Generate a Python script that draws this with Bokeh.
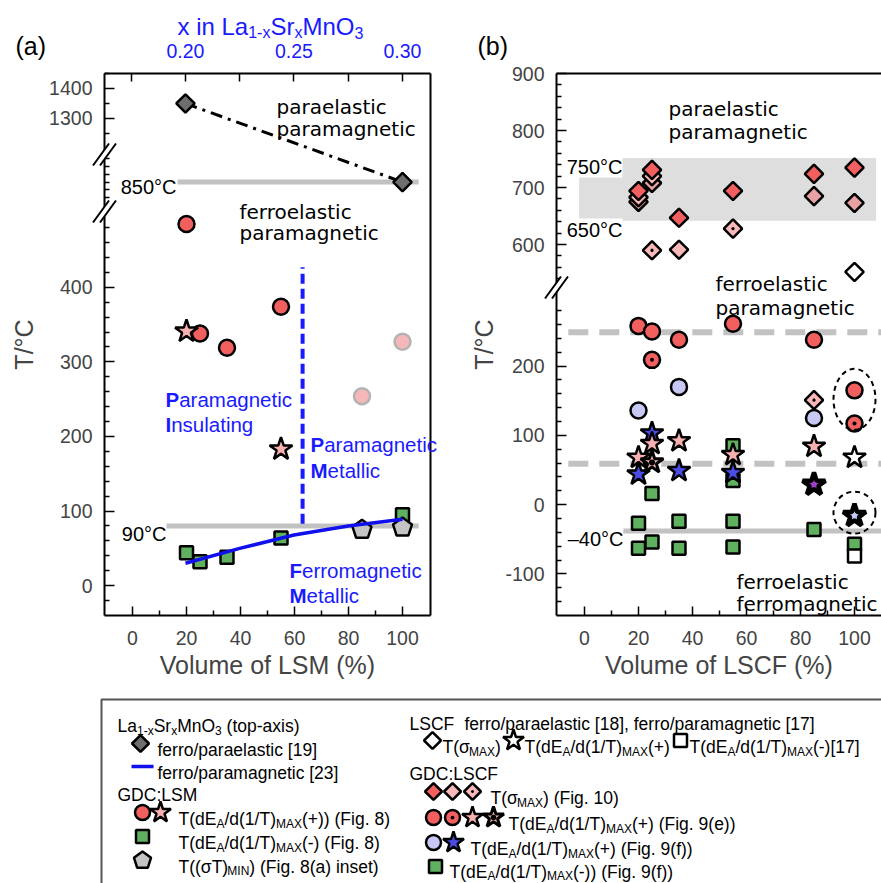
import numpy as np
from bokeh.plotting import figure
from bokeh.layouts import row
from bokeh.models import (Range1d, LinearAxis, FixedTicker, CustomJSTickFormatter,
                          PrintfTickFormatter, Label, ColumnDataSource, GridBox)
from bokeh.core.properties import value, field
from bokeh.embed import file_html
from bokeh.resources import INLINE

# ------------------------------------------------------------------ data
# (a) La1-xSrxMnO3 literature values (top axis: x)
lsm_x = [0.20, 0.30]
lsm_elastic_T = [1350, 850]
lsm_mag_x = [0.20, 0.225, 0.25, 0.275, 0.30]
lsm_mag_T = [30, 50, 68, 80, 89]
# (a) GDC:LSM (bottom axis: volume % LSM)
a_circle_vol = [20, 25, 35, 55]
a_circle_T = [485, 338, 319, 374]
a_star_vol = [20, 55]
a_star_T = [341, 183]
a_faint_vol = [85, 100]
a_faint_T = [254, 327]
a_square_vol = [20, 25, 35, 55, 100]
a_square_T = [44, 32, 38, 64, 95]
a_pent_vol = [85, 100]
a_pent_T = [75, 78]
a_ref_T = [850, 80]
a_ref_vol = [[16.7, 106], [12.6, 106]]
a_ref_label = ["850°C", "90°C"]
a_bound_vol = [63, 63]
a_bound_T = [83, 427]

# (b) GDC:LSCF (volume % LSCF)
b_dia_red_vol = [20, 25, 35, 55, 85, 100]
b_dia_red_T = [694, 731, 647, 694, 724, 735]
b_dia_mid_vol = [20, 25, 85, 100]
b_dia_mid_T = [675, 708, 685, 673]
b_dia_pale_vol = [35]
b_dia_pale_T = [591]
b_dia_dot_vol = [20, 25, 25, 55, 85]
b_dia_dot_T = [683, 720, 590, 628, 151]
b_circ_red_vol = [20, 25, 35, 55, 85, 100]
b_circ_red_T = [258, 250, 238, 261, 238, 165]
b_circ_dot_vol = [25, 100]
b_circ_dot_T = [209, 117]
b_circ_lav_vol = [20, 35, 85]
b_circ_lav_T = [136, 170, 125]
b_star_pink_vol = [20, 25, 35, 55, 85]
b_star_pink_T = [68, 88, 92, 72, 84]
b_star_dot_vol = [25]
b_star_dot_T = [61]
b_star_blue_vol = [20, 25, 35, 55]
b_star_blue_T = [44, 103, 49, 46]
b_star_violet_vol = [85]
b_star_violet_T = [29]
b_star_lav_vol = [100]
b_star_lav_T = [-16]
b_sq_vol = [25, 20, 20, 25, 35, 35, 55, 55, 55, 55, 85, 100]
b_sq_T = [16, -27, -63, -54, -24, -63, -24, -61, 85, 35, -36, -57]
# LSCF literature values
lscf_dia_vol = [100]
lscf_dia_T = [552]
lscf_star_vol = [100]
lscf_star_T = [68]
lscf_sq_vol = [100]
lscf_sq_T = [-74]
b_band_T = [642, 752]
b_band_vol = [-2, 108]
b_dash_T = [249, 59]
b_solid_T = [-38]
b_ring_vol = [100, 100]
b_ring_T = [152, -11.5]

# tick labels
a_major = [0, 100, 200, 300, 400, 1300, 1400]
a_minor = [t for t in range(-20, 500, 20) if t % 100] + [775, 800, 825, 850, 875, 900, 925] + [1200, 1250, 1350, 1450]
b_major = [-100, 0, 100, 200, 600, 700, 800, 900]
b_minor = [t for t in range(-140, 320, 20) if t % 100] + [t for t in range(540, 900, 20) if t % 100]
vol_major = [0, 20, 40, 60, 80, 100]
vol_minor = [10, 30, 50, 70, 90]
x_major = [0.20, 0.25, 0.30]
x_minor = [0.175, 0.225, 0.275]

# ------------------------------------------------------------------ style
FONT = "Liberation Sans"
TXT = "DejaVu Sans"
BLUE = "#1a1aff"
RED = "#f25f5f"
PINK = "#f6b0b0"
PALE = "#f8b8b8"
MID = "#e6a2a2"
LAV = "#c8c8f4"
SBLUE = "#4b4be6"
GREEN = "#5fb05f"
GREYREF = "#c2c2c2"
FH = 542
X_A = (-10.37, 110.37)
X_B = (-10.37, 110.0)
TOP_A = (0.1627, 0.3129)
PPX_A = 326 / (X_A[1] - X_A[0])

# broken axes: temperature -> frame height (px from bottom)
A_T = [-40, 503, 760, 950, 1193, 1450]
A_D = [0, 405, 405, 465, 465, FH]
B_T = [-160, 312, 523, 900]
B_D = [0, 327, 327, FH]


def dA(T):
    return np.interp(np.asarray(T, float), A_T, A_D)


def dB(T):
    return np.interp(np.asarray(T, float), B_T, B_D)


AW = {' ': 278, '(': 333, ')': 333, '+': 584, ',': 278, '-': 333, '.': 278, '/': 278, ':': 278,
      '[': 278, ']': 278, 'A': 667, 'C': 722, 'D': 722, 'E': 667, 'F': 611, 'G': 778, 'I': 278,
      'L': 556, 'M': 833, 'N': 722, 'O': 778, 'S': 667, 'T': 611, 'X': 667, 'P': 667,
      'a': 556, 'c': 500, 'd': 556, 'e': 556, 'f': 278, 'g': 556, 'i': 222, 'l': 222, 'm': 833,
      'n': 556, 'o': 556, 'p': 556, 'r': 333, 's': 500, 't': 278, 'x': 500, 'σ': 571, '°': 400}


def tw(s, size):
    return sum(AW.get(c, 556) for c in s) / 1000.0 * size


def yfmt(pos, labels):
    return CustomJSTickFormatter(args=dict(pos=[float(v) for v in pos], lab=labels), code="""
for (let i = 0; i < pos.length; i++) { if (Math.abs(pos[i] - tick) < 0.01) return lab[i]; }
return "";
""")


def style_axis(ax, label, standoff, lab_standoff, tick_in=10, minor_in=5):
    ax.axis_label = label
    ax.axis_label_text_font = FONT
    ax.axis_label_text_font_size = "25px"
    ax.axis_label_text_font_style = "normal"
    ax.axis_label_standoff = lab_standoff
    ax.major_label_text_font = FONT
    ax.major_label_text_font_size = "19.5px"
    ax.major_label_standoff = standoff
    ax.major_tick_in = tick_in
    ax.major_tick_out = 0
    ax.minor_tick_in = minor_in
    ax.minor_tick_out = 0
    ax.axis_line_width = 2
    ax.major_tick_line_width = 1.5
    ax.minor_tick_line_width = 1.5


def spine(p, side):
    ax = LinearAxis(ticker=FixedTicker(ticks=[], minor_ticks=[]), axis_line_width=2,
                    major_label_standoff=0, major_tick_out=0, major_tick_in=0,
                    minor_tick_out=0, minor_tick_in=0, major_label_text_font_size="1px")
    p.add_layout(ax, side)


def lab(p, x, y, text, size="20px", font=TXT, color="black", align="left", bg=None):
    p.add_layout(Label(x=x, y=y, x_units="screen", y_units="screen", text=text, text_font=font,
                       text_font_size=size, text_color=color, text_align=align,
                       text_baseline="alphabetic", background_fill_color=bg))


def base_fig(width, left, right, xr):
    p = figure(width=width, height=700, x_range=Range1d(*xr), y_range=Range1d(0, FH),
               output_backend="svg", toolbar_location=None,
               min_border_left=left, min_border_right=right, min_border_top=73, min_border_bottom=85)
    p.xgrid.visible = False
    p.ygrid.visible = False
    p.outline_line_color = None
    p.background_fill_color = "white"
    p.border_fill_color = "white"
    return p


# ------------------------------------------------------------------ panel (a)
pa = base_fig(440, 104, 10, X_A)
pa.extra_x_ranges = {"lsm": Range1d(*TOP_A)}
bx = pa.below[0]
bx.ticker = FixedTicker(ticks=vol_major, minor_ticks=vol_minor)
style_axis(bx, "Volume of LSM (%)", 15, 3, tick_in=9, minor_in=5)
ly = pa.left[0]
ly.ticker = FixedTicker(ticks=list(dA(a_major)), minor_ticks=list(dA(a_minor)))
ly.formatter = yfmt(dA(a_major), [str(v) for v in a_major])
style_axis(ly, "T/°C", 12, 8)
top = LinearAxis(x_range_name="lsm", ticker=FixedTicker(ticks=x_major, minor_ticks=x_minor),
                 formatter=PrintfTickFormatter(format="%.2f"))
style_axis(top, None, 16, 0, tick_in=8, minor_in=8)
top.major_label_text_color = BLUE
pa.add_layout(top, "above")
spine(pa, "right")

for T, vols in zip(a_ref_T, a_ref_vol):
    pa.line(vols, [dA(T)] * 2, line_color=GREYREF, line_width=5)
pa.line(a_bound_vol, dA(a_bound_T), line_color=BLUE, line_width=4, line_dash="10 5")
pa.line(lsm_x, dA(lsm_elastic_T), x_range_name="lsm", line_color="black", line_width=3,
        line_dash="12 6 3 6")
pa.scatter(a_faint_vol, dA(a_faint_T), marker="circle", size=16, fill_color="#f5b7b7",
           line_color="#b3b3b3", line_width=2.5)
pa.scatter(a_square_vol, dA(a_square_T), marker="square", size=13, fill_color=GREEN,
           line_color="black", line_width=2.5)
ang = np.pi / 2 + np.arange(5) * 2 * np.pi / 5
pxs = [list(v + 10 * np.cos(ang) / PPX_A) for v in a_pent_vol]
pys = [list(d + 10 * np.sin(ang)) for d in dA(a_pent_T)]
pa.patches(pxs, pys, fill_color="#c4c4c4", line_color="black", line_width=2.5)
pa.line(lsm_mag_x, dA(lsm_mag_T), x_range_name="lsm", line_color="#1010ee", line_width=3.5)
pa.scatter(a_circle_vol, dA(a_circle_T), marker="circle", size=16, fill_color=RED,
           line_color="black", line_width=2.5)
pa.scatter(a_star_vol, dA(a_star_T), marker="star", size=24, fill_color=PINK,
           line_color="black", line_width=2.5)
pa.scatter(lsm_x, dA(lsm_elastic_T), x_range_name="lsm", marker="square", angle=np.pi / 4,
           size=13, fill_color="#6e6e6e", line_color="black", line_width=2.5)

lab(pa, 172, 509, "paraelastic")
lab(pa, 172, 487, "paramagnetic")
lab(pa, 135, 404, "ferroelastic")
lab(pa, 135, 383, "paramagnetic")
lab(pa, 72, 429, a_ref_label[0], font=FONT, align="right")
lab(pa, 62, 82, a_ref_label[1], font=FONT, align="right")

# ------------------------------------------------------------------ panel (b)
pb = base_fig(441, 116, 0, X_B)
bx = pb.below[0]
bx.ticker = FixedTicker(ticks=vol_major, minor_ticks=vol_minor)
style_axis(bx, "Volume of LSCF (%)", 15, 3, tick_in=9, minor_in=5)
ly = pb.left[0]
ly.ticker = FixedTicker(ticks=list(dB(b_major)), minor_ticks=list(dB(b_minor)))
ly.formatter = yfmt(dB(b_major), [str(v) for v in b_major])
style_axis(ly, "T/°C", 12, 4)
spine(pb, "above")

pb.quad(left=[b_band_vol[0]], right=[b_band_vol[1]], bottom=[dB(b_band_T[0])], top=[dB(b_band_T[1])],
        fill_color="#dedede", line_color=None)
for T in b_dash_T:
    pb.line([-6, 110], [dB(T)] * 2, line_color=GREYREF, line_width=6, line_dash="20 11")
for T in b_solid_T:
    pb.line([14.4, 110], [dB(T)] * 2, line_color=GREYREF, line_width=5)

pb.scatter(b_sq_vol, dB(b_sq_T), marker="square", size=13, fill_color=GREEN, line_color="black", line_width=2.5)
pb.scatter(lscf_sq_vol, dB(lscf_sq_T), marker="square", size=13, fill_color="white", line_color="black", line_width=2.5)
pb.scatter(b_circ_red_vol, dB(b_circ_red_T), marker="circle", size=16, fill_color=RED, line_color="black", line_width=2.5)
pb.scatter(b_circ_dot_vol, dB(b_circ_dot_T), marker="circle_dot", size=16, fill_color=RED, line_color="black", line_width=2.5)
pb.scatter(b_circ_lav_vol, dB(b_circ_lav_T), marker="circle", size=16, fill_color=LAV, line_color="black", line_width=2.5)
pb.scatter(b_dia_mid_vol, dB(b_dia_mid_T), marker="square", angle=np.pi / 4, size=13, fill_color=MID, line_color="black", line_width=2.5)
pb.scatter(b_dia_pale_vol, dB(b_dia_pale_T), marker="square", angle=np.pi / 4, size=13, fill_color=PALE, line_color="black", line_width=2.5)
pb.scatter(b_dia_dot_vol, dB(b_dia_dot_T), marker="square_dot", angle=np.pi / 4, size=13, fill_color=PALE, line_color="black", line_width=2.5)
pb.scatter(b_dia_red_vol, dB(b_dia_red_T), marker="square", angle=np.pi / 4, size=13, fill_color=RED, line_color="black", line_width=2.5)
pb.scatter(lscf_dia_vol, dB(lscf_dia_T), marker="square", angle=np.pi / 4, size=13, fill_color="white", line_color="black", line_width=2.5)
pb.scatter(b_star_blue_vol, dB(b_star_blue_T), marker="star", size=24, fill_color=SBLUE, line_color="black", line_width=2.5)
pb.scatter(b_star_pink_vol, dB(b_star_pink_T), marker="star", size=24, fill_color=PINK, line_color="black", line_width=2.5)
pb.scatter(b_star_dot_vol, dB(b_star_dot_T), marker="star_dot", size=24, fill_color=PINK, line_color="black", line_width=3)
pb.scatter(b_star_violet_vol, dB(b_star_violet_T), marker="star", size=24, fill_color="#a040c8", line_color="black", line_width=4.5)
pb.scatter(b_star_lav_vol, dB(b_star_lav_T), marker="star", size=24, fill_color=LAV, line_color="black", line_width=4.5)
pb.scatter(lscf_star_vol, dB(lscf_star_T), marker="star", size=24, fill_color="white", line_color="black", line_width=2.5)
pb.ellipse(b_ring_vol, dB(b_ring_T), width=[42, 42], height=[61, 42], width_units="screen",
           height_units="screen", fill_color=None, line_color="black", line_width=2, line_dash="5 4")

lab(pb, 112, 507, "paraelastic")
lab(pb, 112, 484, "paramagnetic")
lab(pb, 159, 332, "ferroelastic")
lab(pb, 159, 308, "paramagnetic")
lab(pb, 180, 34, "ferroelastic")
lab(pb, 180, 12, "ferromagnetic")
lab(pb, 66, 449, "750°C", font=FONT, align="right", bg="white")
lab(pb, 66, 386, "650°C", font=FONT, align="right", bg="white")
lab(pb, 67, 77, "–40°C", font=FONT, align="right")

# ------------------------------------------------------------------ overlay (page pixels):
# panel tags, top-axis title, axis breaks, region names and legend
ov = figure(width=881, height=883, x_range=Range1d(0, 881), y_range=Range1d(883, 0),
            output_backend="svg", toolbar_location=None, x_axis_location=None,
            y_axis_location=None, min_border=0)
ov.grid.visible = False
ov.outline_line_color = None
ov.background_fill_color = None
ov.border_fill_color = None

# axis-break marks (page px)
brk_x, brk_y = [104, 104, 556], [154, 211, 287]
wx, wy, sx0, sy0, sx1, sy1 = [], [], [], [], [], []
for cx, cy in zip(brk_x, brk_y):
    dx, dy, g = 8, 11, 3.5
    wx.append([cx - dx - g, cx + dx - g, cx + dx + g, cx - dx + g])
    wy.append([cy + dy, cy - dy, cy - dy, cy + dy])
    for s in (-g, g):
        sx0.append(cx - dx + s); sy0.append(cy + dy); sx1.append(cx + dx + s); sy1.append(cy - dy)
ov.patches(wx, wy, fill_color="white", line_color=None)
ov.segment(sx0, sy0, sx1, sy1, line_color="black", line_width=2)

# legend box
ov.quad(left=[101], right=[900], top=[699], bottom=[900], fill_color="white",
        line_color="#555555", line_width=2)

LS, SS = 17.5, 12
tx, ty, tt, tsz, tcol, tsty = [], [], [], [], [], []


def rich(parts, x, y, size=LS, sub=SS, drop=5, color="black", style="normal"):
    for t, is_sub in parts:
        s = sub if is_sub else size
        stripped = t.lstrip(" ")
        xx = x + tw(t[:len(t) - len(stripped)], s)
        tx.append(xx); ty.append(y + (drop if is_sub else 0)); tt.append(stripped)
        tsz.append(f"{s}px"); tcol.append(color); tsty.append(style)
        x += tw(t, s)


def blue_word(x, y, word, size=20.5):
    rich([(word[0], 0)], x, y, size=size, color=BLUE, style="bold")
    rich([(word[1:], 0)], x + tw(word[0], size), y, size=size, color=BLUE)


rich([("(a)", 0)], 15, 45, size=25)
rich([("(b)", 0)], 477, 45, size=25)
rich([("x in La", 0), ("1-x", 1), ("Sr", 0), ("x", 1), ("MnO", 0), ("3", 1)], 177, 26,
     size=24, sub=16, drop=6, color=BLUE)
blue_word(165, 399, "Paramagnetic")
blue_word(165, 424, "Insulating")
blue_word(310, 444, "Paramagnetic")
blue_word(310, 470, "Metallic")
blue_word(289, 570, "Ferromagnetic")
blue_word(289, 595, "Metallic")

dEA = [("T(dE", 0), ("A", 1), ("/d(1/T)", 0), ("MAX", 1)]
rich([("La", 0), ("1-x", 1), ("Sr", 0), ("x", 1), ("MnO", 0), ("3", 1), (" (top-axis)", 0)], 117, 725)
rich([("ferro/paraelastic [19]", 0)], 157, 749)
rich([("ferro/paramagnetic [23]", 0)], 157, 772)
rich([("GDC:LSM", 0)], 117, 794)
rich(dEA + [("(+)) (Fig. 8)", 0)], 178, 818)
rich(dEA + [("(-) (Fig. 8)", 0)], 178, 842)
rich([("T((σT)", 0), ("MIN", 1), (") (Fig. 8(a) inset)", 0)], 178, 866, drop=4)
rich([("LSCF", 0)], 409, 723)
rich([("ferro/paraelastic [18], ferro/paramagnetic [17]", 0)], 464, 723)
rich([("T(σ", 0), ("MAX", 1), (")", 0)], 442, 746)
rich(dEA + [("(+)", 0)], 524, 746)
rich(dEA + [("(-)[17]", 0)], 689, 746)
rich([("GDC:LSCF", 0)], 409, 773)
rich([("T(σ", 0), ("MAX", 1), (") (Fig. 10)", 0)], 490, 797)
rich(dEA + [("(+) (Fig. 9(e))", 0)], 508, 823)
rich(dEA + [("(+) (Fig. 9(f))", 0)], 470, 848)
rich(dEA + [("(-)) (Fig. 9(f))", 0)], 449, 871, drop=4)
ov.text(x="x", y="y", text="text",
        source=ColumnDataSource(dict(x=tx, y=ty, text=tt, size=tsz, color=tcol, style=tsty)),
        text_font=value(FONT), text_font_size=field("size"), text_color=field("color"),
        text_font_style=field("style"), text_baseline="alphabetic", text_align="left")

# legend symbols
ov.scatter([140], [743], marker="square", angle=np.pi / 4, size=12, fill_color="#6e6e6e", line_color="black", line_width=2.5)
ov.line([131, 153], [766, 766], line_color="#1010ee", line_width=3.5)
ov.scatter([142], [812], marker="circle", size=15, fill_color=RED, line_color="black", line_width=2.5)
ov.scatter([160], [812], marker="star", size=22, fill_color=PINK, line_color="black", line_width=2.5)
ov.scatter([142], [836], marker="square", size=13, fill_color=GREEN, line_color="black", line_width=2.5)
lang = np.pi / 2 + np.arange(5) * 2 * np.pi / 5
ov.patches([list(142 + 9 * np.cos(lang))], [list(860 - 9 * np.sin(lang))], fill_color="#c4c4c4", line_color="black", line_width=2.5)
ov.scatter([432], [740], marker="square", angle=np.pi / 4, size=12, fill_color="white", line_color="black", line_width=2.5)
ov.scatter([513], [740], marker="star", size=22, fill_color="white", line_color="black", line_width=2.5)
ov.scatter([680], [740], marker="square", size=13, fill_color="white", line_color="black", line_width=2.5)
ov.scatter([433], [791], marker="square", angle=np.pi / 4, size=12, fill_color=RED, line_color="black", line_width=2.5)
ov.scatter([452], [791], marker="square", angle=np.pi / 4, size=12, fill_color=PALE, line_color="black", line_width=2.5)
ov.scatter([472], [791], marker="square_dot", angle=np.pi / 4, size=12, fill_color=PALE, line_color="black", line_width=2.5)
ov.scatter([433], [817], marker="circle", size=15, fill_color=RED, line_color="black", line_width=2.5)
ov.scatter([452], [817], marker="circle_dot", size=15, fill_color=RED, line_color="black", line_width=2.5)
ov.scatter([472], [817], marker="star", size=22, fill_color=PINK, line_color="black", line_width=2.5)
ov.scatter([493], [817], marker="star_dot", size=22, fill_color=PINK, line_color="black", line_width=3)
ov.scatter([433], [842], marker="circle", size=15, fill_color=LAV, line_color="black", line_width=2.5)
ov.scatter([453], [842], marker="star", size=22, fill_color=SBLUE, line_color="black", line_width=2.5)
ov.scatter([435], [866], marker="square", size=13, fill_color=GREEN, line_color="black", line_width=2.5)

layout = GridBox(children=[(row(pa, pb), 0, 0), (ov, 0, 0)], spacing=0)
open("out.html", "w").write(file_html(layout, INLINE))
